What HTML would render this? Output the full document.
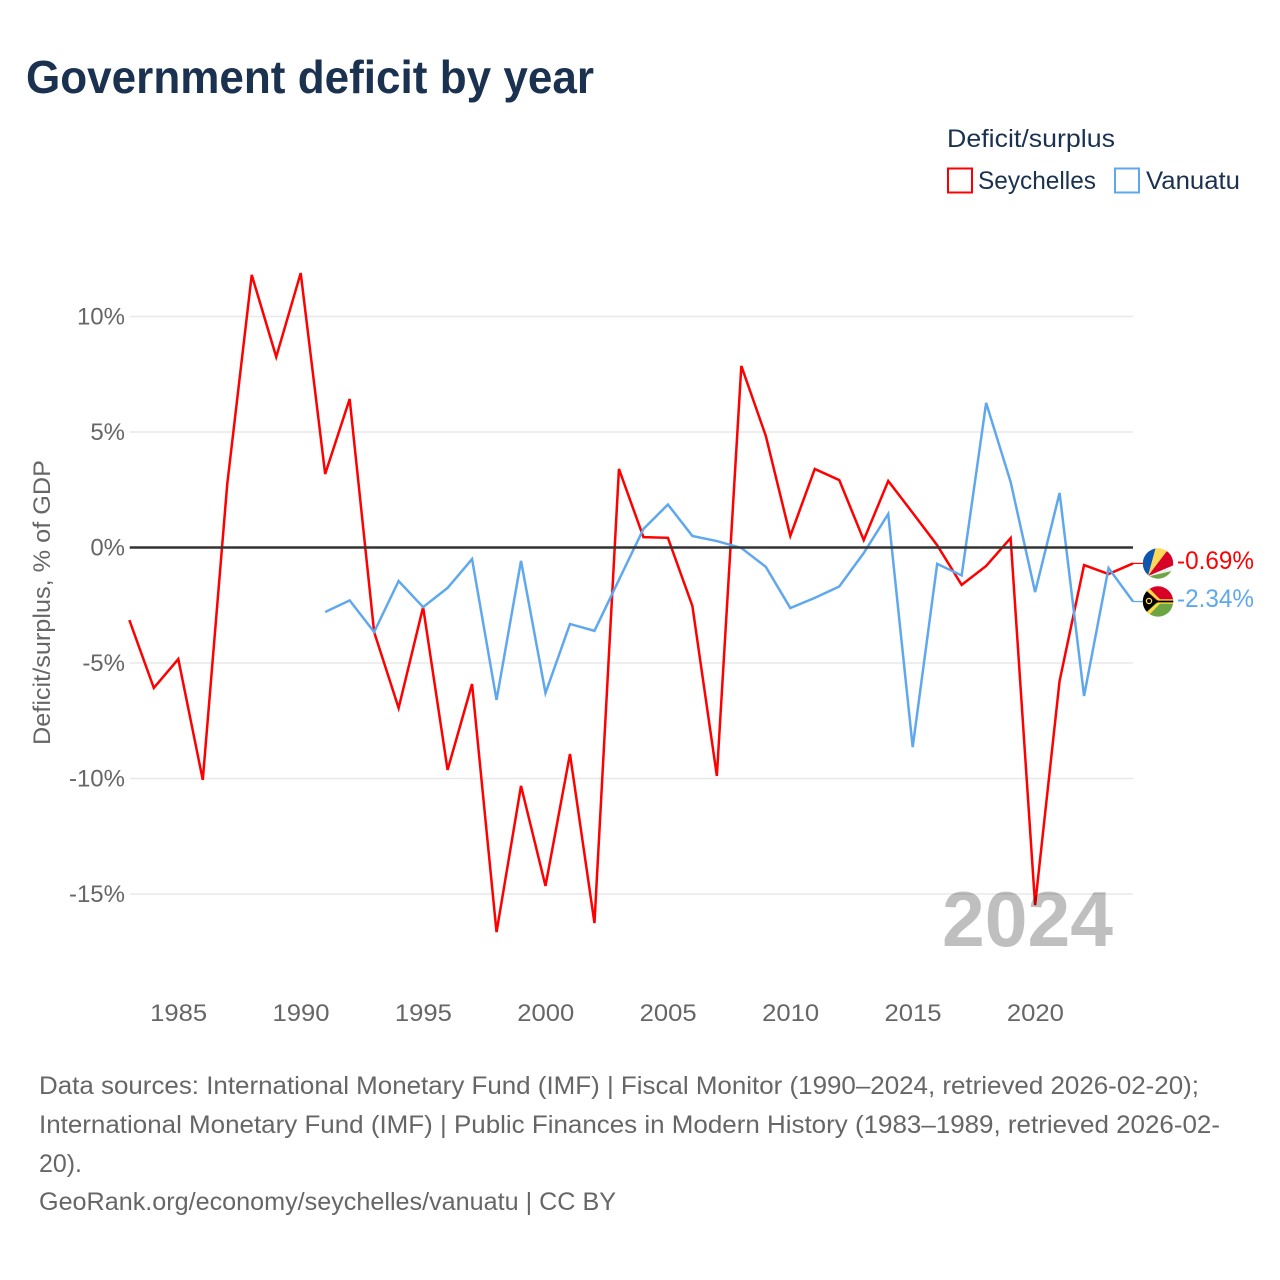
<!DOCTYPE html>
<html lang="en">
<head>
<meta charset="utf-8">
<title>Government deficit by year</title>
<style>
html,body{margin:0;padding:0;background:#fff;}
svg{display:block;font-family:"Liberation Sans",sans-serif;}
</style>
</head>
<body>
<svg id="chart" xmlns="http://www.w3.org/2000/svg" width="1280" height="1280" viewBox="0 0 1280 1280">
  <defs>
    <clipPath id="flag-clip-sc"><circle cx="1158" cy="563.5" r="15.2"/></clipPath>
    <clipPath id="flag-clip-vu"><circle cx="1158" cy="601.5" r="15.2"/></clipPath>
  </defs>
  <rect width="1280" height="1280" fill="#fff"/>
  <text x="26" y="93" font-size="46" font-weight="700" fill="#1a3150" textLength="568" lengthAdjust="spacingAndGlyphs">Government deficit by year</text>

  <text x="947" y="147" font-size="25" fill="#1a3150" textLength="168" lengthAdjust="spacingAndGlyphs">Deficit/surplus</text>
  <rect x="948" y="168.5" width="24" height="24" fill="none" stroke="#ff0000" stroke-width="2"/>
  <text x="978" y="189" font-size="25" fill="#1a3150" textLength="118" lengthAdjust="spacingAndGlyphs">Seychelles</text>
  <rect x="1115" y="168.5" width="24" height="24" fill="none" stroke="#5fa8ee" stroke-width="2"/>
  <text x="1146" y="189" font-size="25" fill="#1a3150" textLength="94" lengthAdjust="spacingAndGlyphs">Vanuatu</text>

  <text transform="translate(50,745) rotate(-90)" font-size="24" fill="#666" textLength="285" lengthAdjust="spacingAndGlyphs">Deficit/surplus, % of GDP</text>

  <g id="grid"></g>
  <g id="y-ticks"></g>
  <g id="x-ticks"></g>
  <g id="lines"></g>

  <text x="1113" y="946" font-size="78" font-weight="700" fill="#000" fill-opacity="0.25" text-anchor="end" textLength="171" lengthAdjust="spacingAndGlyphs">2024</text>

  <g clip-path="url(#flag-clip-sc)">
    <rect x="1142" y="547" width="32" height="33" fill="#f0f0f0"/>
    <polygon points="1148,576 1142,576 1142,547 1156,547" fill="#0c56b0"/>
    <polygon points="1148,576 1156,547 1164,547" fill="#fcd856"/>
    <polygon points="1148,576 1164,547 1174,549 1174,553" fill="#fcd856"/>
    <polygon points="1148,576 1167,551 1174,555 1174,565" fill="#d80027"/>
    <polygon points="1148,576.5 1174,570.5 1174,580 1148,580" fill="#6da544"/>
  </g>
  <g clip-path="url(#flag-clip-vu)">
    <rect x="1142" y="585" width="32" height="17" fill="#d80027"/>
    <rect x="1142" y="601" width="32" height="18" fill="#6da544"/>
    <rect x="1154" y="600.3" width="20" height="2.4" fill="#000"/>
    <polygon points="1142,585 1146,585 1160,599.3 1174,599.3 1174,600.6 1158,600.6 1142,587" fill="#ffda44"/>
    <polygon points="1142,618 1146,618 1160,603.7 1174,603.7 1174,602.4 1158,602.4 1142,616" fill="#ffda44"/>
    <polygon points="1142,586.5 1157.5,601.5 1142,616.5" fill="#000"/>
    <circle cx="1149" cy="601" r="2.6" fill="none" stroke="#ffda44" stroke-width="1.3"/>
  </g>
  <g id="end-labels"></g>

  <g fill="#666" font-size="25">
    <text x="39" y="1094" textLength="1160" lengthAdjust="spacingAndGlyphs">Data sources: International Monetary Fund (IMF) | Fiscal Monitor (1990–2024, retrieved 2026-02-20);</text>
    <text x="39" y="1133" textLength="1181" lengthAdjust="spacingAndGlyphs">International Monetary Fund (IMF) | Public Finances in Modern History (1983–1989, retrieved 2026-02-</text>
    <text x="39" y="1172" textLength="43" lengthAdjust="spacingAndGlyphs">20).</text>
    <text x="39" y="1210" textLength="577" lengthAdjust="spacingAndGlyphs">GeoRank.org/economy/seychelles/vanuatu | CC BY</text>
  </g>
</svg>
<script>
var firstYear = 1983;
var yTickValues = [10, 5, 0, -5, -10, -15];
var yTickLabels = ['10%', '5%', '0%', '-5%', '-10%', '-15%'];
var xTickYears = [1985, 1990, 1995, 2000, 2005, 2010, 2015, 2020];
var seychellesValues = [-3.14, -6.08, -4.83, -10.06, 2.75, 11.8, 8.25, 11.88, 3.18, 6.43, -3.66, -6.95, -2.58, -9.63, -5.91, -16.65, -10.32, -14.65, -8.94, -16.26, 3.4, 0.45, 0.42, -2.53, -9.89, 7.86, 4.83, 0.5, 3.4, 2.92, 0.32, 2.88, 1.5, 0.1, -1.62, -0.8, 0.41, -15.48, -5.78, -0.76, -1.15, -0.69];
var vanuatuValues = [null, null, null, null, null, null, null, null, -2.79, -2.29, -3.66, -1.45, -2.58, -1.75, -0.5, -6.6, -0.58, -6.3, -3.31, -3.61, -1.4, 0.8, 1.86, 0.5, 0.28, -0.02, -0.84, -2.62, -2.18, -1.69, -0.24, 1.45, -8.64, -0.71, -1.21, 6.26, 2.84, -1.93, 2.36, -6.43, -0.89, -2.34];
var seychellesEndLabel = '-0.69%';
var vanuatuEndLabel = '-2.34%';

var NS = 'http://www.w3.org/2000/svg';
function xScale(year) { return 178.3 + (year - 1985) * 24.48; }
function yScale(v) { return 547.5 - v * 23.1; }
function make(tag, attrs, parent) {
  var el = document.createElementNS(NS, tag);
  for (var k in attrs) { el.setAttribute(k, attrs[k]); }
  parent.appendChild(el);
  return el;
}
var gridG = document.getElementById('grid');
var yG = document.getElementById('y-ticks');
var xG = document.getElementById('x-ticks');
var linesG = document.getElementById('lines');
var endG = document.getElementById('end-labels');

yTickValues.forEach(function (v, i) {
  if (v !== 0) {
    var ln = make('line', {x1: 129.7, x2: 1133, y1: yScale(v), y2: yScale(v), stroke: '#e8e8e8', 'stroke-width': 1.5}, gridG);
    
    
  }
  var t = make('text', {x: 125, y: yScale(v) + 8, 'font-size': 24, fill: '#666', 'text-anchor': 'end'}, yG);
  
  
  t.textContent = yTickLabels[i];
});
xTickYears.forEach(function (yr) {
  var t = make('text', {x: xScale(yr) + 0.3, y: 1021, 'font-size': 24, fill: '#666', 'text-anchor': 'middle', textLength: 57, lengthAdjust: 'spacingAndGlyphs'}, xG);
  
  
  t.textContent = yr;
});
function pathFor(values) {
  var d = '';
  values.forEach(function (v, i) {
    if (v === null) { return; }
    d += (d ? 'L' : 'M') + xScale(firstYear + i).toFixed(2) + ' ' + yScale(v).toFixed(2);
  });
  return d;
}
var seyLine = make('path', {d: pathFor(seychellesValues), fill: 'none', stroke: '#ff0000', 'stroke-width': 2.5, 'stroke-linejoin': 'miter'}, linesG);


var vanLine = make('path', {d: pathFor(vanuatuValues), fill: 'none', stroke: '#5fa8ee', 'stroke-width': 2.5, 'stroke-linejoin': 'miter'}, linesG);


var zero = make('line', {x1: 129.7, x2: 1133, y1: yScale(0), y2: yScale(0), stroke: '#333', 'stroke-width': 2.4}, linesG);



var lastIdx = seychellesValues.length - 1;
var lastX = xScale(firstYear + lastIdx);
var s1 = make('line', {x1: lastX, x2: 1143, y1: yScale(seychellesValues[lastIdx]), y2: yScale(seychellesValues[lastIdx]), stroke: '#ff0000', 'stroke-width': 1.2}, endG);


var s2 = make('line', {x1: lastX, x2: 1143, y1: yScale(vanuatuValues[lastIdx]), y2: yScale(vanuatuValues[lastIdx]), stroke: '#5fa8ee', 'stroke-width': 1.2}, endG);


var l1 = make('text', {x: 1177, y: 569, 'font-size': 25, fill: '#ff0000', textLength: 77, lengthAdjust: 'spacingAndGlyphs'}, endG);


l1.textContent = seychellesEndLabel;
var l2 = make('text', {x: 1177, y: 607, 'font-size': 25, fill: '#5fa8ee', textLength: 77, lengthAdjust: 'spacingAndGlyphs'}, endG);


l2.textContent = vanuatuEndLabel;
</script>
</body>
</html>
